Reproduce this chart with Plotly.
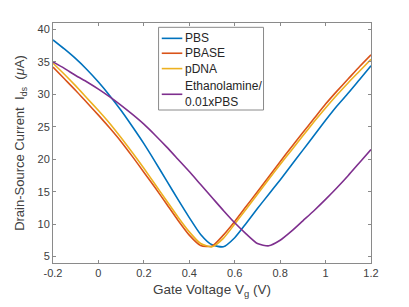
import plotly.graph_objects as go

vg = [-0.2, -0.15, -0.1, -0.05, 0.0, 0.05, 0.1, 0.15, 0.2, 0.25, 0.3, 0.35, 0.4, 0.45, 0.5,
      0.55, 0.6, 0.65, 0.7, 0.75, 0.8, 0.85, 0.9, 0.95, 1.0, 1.05, 1.1, 1.15, 1.2]

pbs = [38.4, 37.0, 35.5, 33.8, 31.9, 29.8, 27.5, 25.0, 22.4, 19.6, 16.7, 13.8, 11.0, 8.4, 6.8,
       6.5, 7.9, 10.1, 12.4, 14.6, 16.8, 19.1, 21.4, 23.7, 26.0, 28.2, 30.2, 32.3, 34.4]
pbase = [34.2, 32.4, 30.6, 28.7, 26.8, 24.8, 22.7, 20.4, 18.0, 15.6, 13.1, 10.6, 8.3, 6.7, 6.6,
         8.3, 10.4, 12.7, 15.0, 17.3, 19.6, 21.9, 24.1, 26.3, 28.5, 30.5, 32.4, 34.3, 36.1]
pdna = [34.8, 33.1, 31.3, 29.4, 27.5, 25.5, 23.3, 21.0, 18.6, 16.1, 13.6, 11.1, 8.8, 7.0, 6.5,
        7.8, 10.0, 12.3, 14.6, 16.9, 19.2, 21.4, 23.6, 25.8, 27.9, 29.9, 31.8, 33.6, 35.4]
ethanol = [35.0, 34.0, 32.9, 31.9, 30.8, 29.6, 28.3, 26.9, 25.4, 23.7, 21.9, 20.0, 18.1, 16.1, 14.1,
           12.1, 10.2, 8.5, 7.0, 6.65, 7.5, 8.9, 10.5, 12.1, 13.8, 15.6, 17.5, 19.5, 21.5]

names = ["PBS", "PBASE", "pDNA", "Ethanolamine/<br>0.01xPBS"]
colors = ["#0072BD", "#D95319", "#EDB120", "#7E2F8E"]
series = [pbs, pbase, pdna, ethanol]

x_ticks = [-0.2, 0, 0.2, 0.4, 0.6, 0.8, 1, 1.2]
x_ticklabels = ["-0.2", "0", "0.2", "0.4", "0.6", "0.8", "1", "1.2"]
y_ticks = [5, 10, 15, 20, 25, 30, 35, 40]

fig = go.Figure()
for nm, col, ys in zip(names, colors, series):
    fig.add_trace(go.Scatter(x=vg, y=ys, mode="lines", name=nm, showlegend=False,
                             line=dict(color=col, width=1.6, shape="spline", smoothing=0.6)))

axis_common = dict(showline=True, linecolor="#8a8a8a", linewidth=1, mirror="ticks",
                   ticks="inside", ticklen=3, tickcolor="#8a8a8a", showgrid=False,
                   zeroline=False, automargin=False,
                   tickfont=dict(size=11, color="#404040"))

# Legend (drawn in paper coordinates, MATLAB style)
leg_box = dict(x0=0.332, x1=0.662, y0=0.6375, y1=0.982)
leg_line_x = (0.342, 0.4066)
leg_line_y = [0.936, 0.874, 0.810, 0.703]
leg_text_x = 0.409

shapes = [dict(type="rect", xref="paper", yref="paper", line=dict(color="#8a8a8a", width=1),
               fillcolor="white", layer="above", **leg_box)]
annotations = []
for nm, col, ly in zip(names, colors, leg_line_y):
    shapes.append(dict(type="line", xref="paper", yref="paper", x0=leg_line_x[0], x1=leg_line_x[1],
                       y0=ly, y1=ly, line=dict(color=col, width=1.6), layer="above"))
    annotations.append(dict(text=nm, xref="paper", yref="paper", x=leg_text_x, y=ly,
                            xanchor="left", yanchor="middle", align="left", showarrow=False,
                            font=dict(size=12, color="#262626")))

# the page body has an 8px default margin, so the figure is sized to fit the 409x307 window
fig.update_layout(
    width=401, height=299,
    margin=dict(l=45, r=38, t=15, b=44),
    paper_bgcolor="white", plot_bgcolor="white",
    font=dict(family="Liberation Sans, Arial, sans-serif", color="#404040"),
    xaxis=dict(range=[-0.2, 1.2], tickvals=x_ticks, ticktext=x_ticklabels,
               title=dict(text="Gate Voltage V<sub>g</sub> (V)", font=dict(size=13.5), standoff=6),
               **axis_common),
    yaxis=dict(range=[4, 41], tickvals=y_ticks,
               title=dict(text="Drain-Source Current  I<sub>ds</sub>  (<i>μ</i>A)", font=dict(size=13), standoff=9),
               **axis_common),
    shapes=shapes,
    annotations=annotations,
    showlegend=False,
)

fig.write_html("out.html")
